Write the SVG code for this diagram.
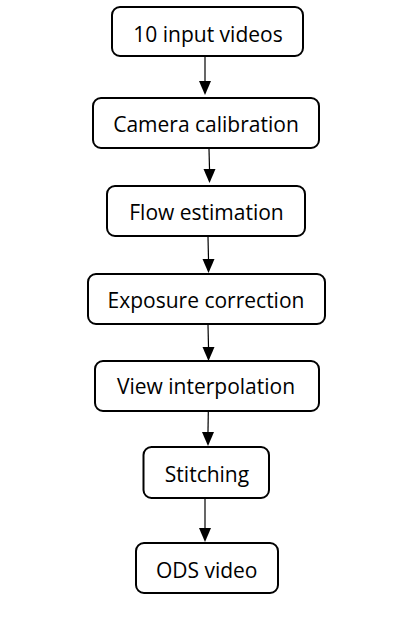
<svg xmlns="http://www.w3.org/2000/svg" width="403" height="627" viewBox="0 0 403 627">
<defs>
<style>
.box{fill:#fff;stroke:#000;stroke-width:2}
.lbl{font-family:"Open Sans","Liberation Sans",sans-serif;font-size:21px;fill:#000;text-anchor:middle}
.con{stroke:#000;stroke-width:1.2;fill:none}
</style>
</defs>
<rect width="403" height="627" fill="#fff"/>
<g id="connectors">
<line class="con" x1="205" y1="57" x2="205" y2="81"/>
<path d="M199,81 L211,81 L205,95 Z" fill="#000"/>
<line class="con" x1="209" y1="149" x2="209.5" y2="169"/>
<path d="M203.5,169 L215.5,169 L209.5,183 Z" fill="#000"/>
<line class="con" x1="208" y1="237" x2="208.5" y2="259"/>
<path d="M202.5,259 L214.5,259 L208.5,273 Z" fill="#000"/>
<line class="con" x1="208" y1="325" x2="208.5" y2="347"/>
<path d="M202.5,347 L214.5,347 L208.5,361 Z" fill="#000"/>
<line class="con" x1="208.3" y1="412" x2="208" y2="432"/>
<path d="M202,432 L214,432 L208,446 Z" fill="#000"/>
<line class="con" x1="205" y1="499" x2="205" y2="528"/>
<path d="M199,528 L211,528 L205,542 Z" fill="#000"/>
</g>
<g id="n1"><rect class="box" x="112" y="7" width="191" height="49" rx="8"/><text class="lbl" x="208" y="42">10 input videos</text></g>
<g id="n2"><rect class="box" x="93" y="98" width="226" height="50" rx="8"/><text class="lbl" x="206" y="132">Camera calibration</text></g>
<g id="n3"><rect class="box" x="107" y="186" width="198" height="50" rx="8"/><text class="lbl" x="206.5" y="220">Flow estimation</text></g>
<g id="n4"><rect class="box" x="88" y="274" width="237" height="50" rx="8"/><text class="lbl" x="206" y="308">Exposure correction</text></g>
<g id="n5"><rect class="box" x="95" y="361" width="224" height="50" rx="8"/><text class="lbl" x="206" y="394">View interpolation</text></g>
<g id="n6"><rect class="box" x="143.5" y="447" width="125.5" height="51" rx="8"/><text class="lbl" x="207" y="482">Stitching</text></g>
<g id="n7"><rect class="box" x="136" y="543" width="142" height="50" rx="8"/><text class="lbl" x="206.7" y="578">ODS video</text></g>
</svg>
